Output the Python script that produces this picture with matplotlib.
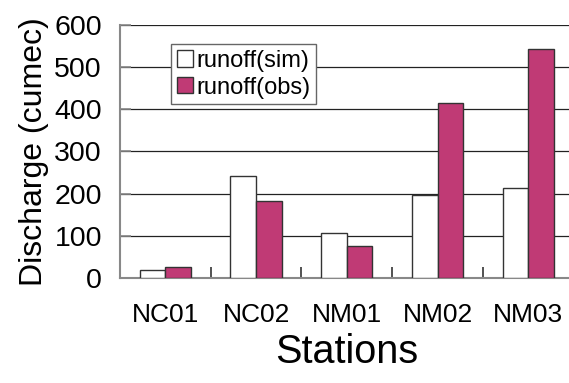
import numpy as np
import matplotlib
matplotlib.use("Agg")
import matplotlib.pyplot as plt

plt.rcParams['font.family'] = ['Liberation Sans', 'DejaVu Sans']

stations = ["NC01", "NC02", "NM01", "NM02", "NM03"]
sim = [19, 242, 107, 197, 213]
obs = [27, 183, 75, 414, 542]
yticks = [0, 100, 200, 300, 400, 500, 600]

fig = plt.figure(figsize=(5.69, 3.83), dpi=100)
ax = fig.add_axes([0.211, 0.274, 0.797, 0.661])

x = np.arange(len(stations))
w = 0.283
ax.bar(x - w / 2, sim, w, color="white", edgecolor="#333333", linewidth=1.0,
       label="runoff(sim)", zorder=3)
ax.bar(x + w / 2, obs, w, color="#c03a75", edgecolor="#333333", linewidth=1.0,
       label="runoff(obs)", zorder=3)

ax.set_xlim(-0.5, len(stations) - 0.5)
ax.set_ylim(0, 600)
ax.set_yticks(yticks)
ax.yaxis.grid(True, color="#222222", linewidth=0.9, zorder=1)
ax.set_axisbelow(True)

# ticks between categories on x axis
ax.set_xticks(x)
ax.set_xticklabels(stations, fontsize=19)
ax.tick_params(axis="x", length=0, pad=18)
ax.set_xticks(np.arange(0.5, len(stations) - 0.5, 1), minor=True)
ax.tick_params(axis="x", which="minor", direction="in", length=8, width=1.2, color="#333333")
ax.tick_params(axis="y", direction="in", length=8, width=1.2, color="#888888",
               labelsize=20.5, pad=13)

for s in ["top", "right"]:
    ax.spines[s].set_visible(False)
ax.spines["left"].set_color("#888888")
ax.spines["bottom"].set_color("#888888")
ax.spines["left"].set_linewidth(1.5)
ax.spines["bottom"].set_linewidth(1.5)

ax.set_ylabel("Discharge (cumec)", fontsize=23, labelpad=4)
ax.set_xlabel("Stations", fontsize=28.5, labelpad=4)

leg = ax.legend(loc="upper left", bbox_to_anchor=(0.112, 0.925), borderaxespad=0,
                fontsize=17, fancybox=False, framealpha=1, edgecolor="#666666",
                handlelength=0.68, handleheight=0.68, handletextpad=0.15,
                labelspacing=0.2, borderpad=0.25)
leg.get_frame().set_linewidth(1.0)
leg.set_zorder(5)

fig.savefig("out.png", dpi=100)
